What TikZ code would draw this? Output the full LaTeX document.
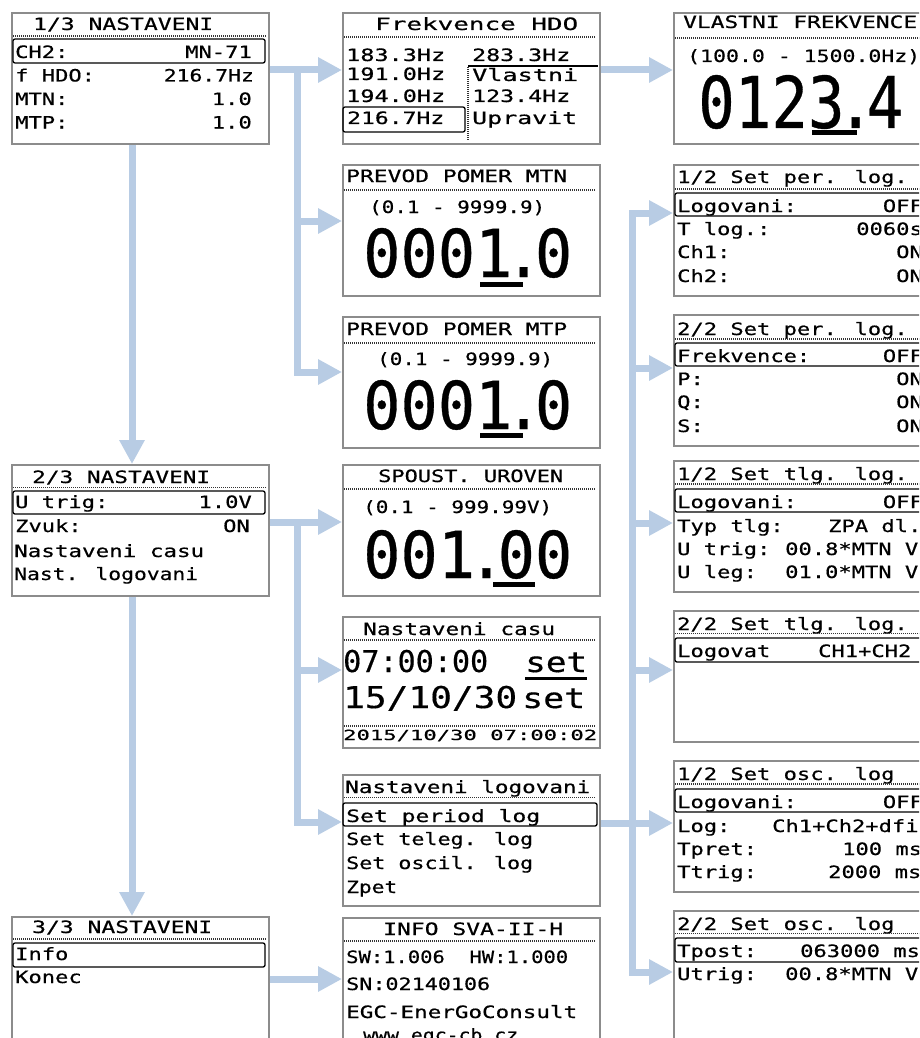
\documentclass[tikz,border=0pt]{standalone}
\usepackage{fontspec}
\usepackage{graphicx}
\usetikzlibrary{arrows.meta}
\newfontfamily\lcdf[FakeStretch=1.3,FakeBold=0.6]{DejaVu Sans Mono}
\newfontfamily\monof[FakeBold=0.4]{DejaVu Sans Mono}
\newfontfamily\bigmonof[FakeBold=0.5]{DejaVu Sans Mono}
\newcommand\lcd{\lcdf\fontsize{17pt}{19pt}\selectfont}
\newcommand\casuf{\monof\fontsize{30pt}{32pt}\selectfont}
\newcommand\setf{\monof\fontsize{28pt}{30pt}\selectfont}
\newcommand\smallf{\monof\fontsize{14pt}{16pt}\selectfont}
\newcommand\bigf{\bigmonof\fontsize{70pt}{72pt}\selectfont}
\newcommand\bdot{\kern-0.12em.\kern-0.12em}
\newlength\fitlen
\newcommand\fitw[2]{\settowidth\fitlen{#2}\pgfmathsetmacro\fitr{#1/\fitlen}\scalebox{\fitr}[1]{#2}}
\newcommand\bignum[3]{\resizebox{#1pt}{#2pt}{\bigf #3}}
\newcounter{tn}
\newcommand\TL[3]{\stepcounter{tn}\node[txt,anchor=base west] (t\arabic{tn}) at (#1,#2) {#3};}
\newcommand\TR[3]{\stepcounter{tn}\node[txt,anchor=base east] (t\arabic{tn}) at (#1,#2) {#3};}
\newcommand\FL[5][\lcd]{\stepcounter{tn}\node[txt,font=#1,anchor=base west] (t\arabic{tn}) at (#2,#3) {\fitw{#4}{#5}};}
\newcommand\FR[5][\lcd]{\stepcounter{tn}\node[txt,font=#1,anchor=base east] (t\arabic{tn}) at (#2,#3) {\fitw{#4}{#5}};}
\definecolor{scrgray}{HTML}{8C8C8C}
\definecolor{arrblue}{HTML}{B8CCE4}
\tikzset{
  screen/.style={draw=scrgray, line width=1.8pt, fill=white, inner sep=0pt, anchor=north west,
    minimum width=257pt, minimum height=131pt},
  hl/.style={draw=black, line width=1.3pt, rounded corners=2pt},
  sep/.style={draw=black!80, line width=1.5pt, dash pattern=on 1pt off 1pt},
  solidsep/.style={draw=black, line width=1.3pt},
  conn/.style={draw=arrblue, line width=7pt, -{Triangle[length=24pt,width=24pt]}},
  txt/.style={inner sep=0pt, font=\lcd, text=black},
}
\begin{document}
\begin{tikzpicture}[x=1pt,y=-1pt]
\useasboundingbox (0,0) rectangle (919,1038);
\clip (0,0) rectangle (919,1038);
\fill[white] (0,0) rectangle (919,1038);

% ---------- screens ----------
\node[screen] (sA) at (11,12) {};
\node[screen] (sB) at (11,464) {};
\node[screen] (sC) at (11,916) {};
\node[screen] (sD) at (342,12) {};
\node[screen] (sE) at (342,164) {};
\node[screen] (sF) at (342,316) {};
\node[screen] (sG) at (342,464) {};
\node[screen] (sH) at (342,616) {};
\node[screen] (sI) at (342,774) {};
\node[screen] (sJ) at (342,917) {};
\node[screen] (sK) at (673,12) {};
\node[screen] (sL) at (673,164) {};
\node[screen] (sM) at (673,314) {};
\node[screen] (sN) at (673,460) {};
\node[screen] (sO) at (673,610) {};
\node[screen] (sP) at (673,760) {};
\node[screen] (sQ) at (673,910) {};

% ---------- A: 1/3 NASTAVENI ----------
\FL{33}{30}{180}{1/3 NASTAVENI}
\draw[sep] (13,36) -- (266,36);
\draw[hl] (13,39) rectangle (265,63);
\TL{15}{58}{CH2:} \TR{252}{58}{MN-71}
\TL{15}{81.5}{f HDO:} \FR{254}{81.5}{90}{216.7Hz}
\TL{15}{105}{MTN:} \TR{252}{105}{1.0}
\TL{15}{128.5}{MTP:} \TR{252}{128.5}{1.0}

% ---------- B: 2/3 NASTAVENI ----------
\FL{32}{483}{178}{2/3 NASTAVENI}
\draw[sep] (13,487.5) -- (266,487.5);
\draw[hl] (13,491) rectangle (265,514);
\TL{15}{508}{U trig:} \TR{252}{508}{1.0V}
\TL{15}{532}{Zvuk:} \TR{250}{532}{ON}
\FL{14}{557}{190}{Nastaveni casu}
\FL{14}{580}{184}{Nast. logovani}

% ---------- C: 3/3 NASTAVENI ----------
\FL{32}{933}{180}{3/3 NASTAVENI}
\draw[sep] (13,939) -- (266,939);
\draw[hl] (13,943) rectangle (265,967);
\TL{15}{960}{Info}
\TL{15}{983}{Konec}

% ---------- D: Frekvence HDO ----------
\FL{375}{30}{203}{Frekvence HDO}
\draw[sep] (344,37) -- (596,37);
\FL{346}{61}{99}{183.3Hz} \FL{472}{61}{98}{283.3Hz}
\draw[solidsep] (468,66) -- (598,66);
\draw[sep] (468,67) -- (468,141);
\FL{346}{80}{99}{191.0Hz} \FL{472}{81}{106}{Vlastni}
\FL{346}{102}{99}{194.0Hz} \FL{472}{102}{98}{123.4Hz}
\draw[hl] (343,107) rectangle (465,132);
\FL{347}{124}{97}{216.7Hz} \FL{472}{124}{105}{Upravit}

% ---------- E: PREVOD POMER MTN ----------
\FL{346}{182}{221}{PREVOD POMER MTN}
\draw[sep] (344,190) -- (596,190);
\FL{369}{213}{176}{(0.1 - 9999.9)}
\stepcounter{tn}\node[txt,anchor=base west] (t\arabic{tn}) at (363,277) {\bignum{209}{49}{0001\bdot 0}};
\fill[black] (480,282) rectangle (523,287);

% ---------- F: PREVOD POMER MTP ----------
\FL{346}{335}{221}{PREVOD POMER MTP}
\draw[sep] (344,343) -- (596,343);
\FL{377}{365}{176}{(0.1 - 9999.9)}
\stepcounter{tn}\node[txt,anchor=base west] (t\arabic{tn}) at (363,429) {\bignum{209}{49}{0001\bdot 0}};
\fill[black] (480,433) rectangle (523,438);

% ---------- G: SPOUST. UROVEN ----------
\FL{378}{482}{185}{SPOUST. UROVEN}
\draw[sep] (344,489) -- (596,489);
\FL{363}{513}{189}{(0.1 - 999.99V)}
\stepcounter{tn}\node[txt,anchor=base west] (t\arabic{tn}) at (363,578) {\bignum{209}{48}{001\bdot 00}};
\fill[black] (493,582) rectangle (535,587);

% ---------- H: Nastaveni casu ----------
\FL{363}{635}{192}{Nastaveni casu}
\draw[sep] (344,640) -- (596,640);
\FL[\casuf]{343}{672}{145}{07:00:00}
\FL[\setf]{525}{672}{62}{set}
\fill[black] (525,677) rectangle (587,680);
\FL[\casuf]{343}{708}{174}{15/10/30}
\FL[\setf]{522}{708}{63}{set}
\draw[sep] (344,726) -- (596,726);
\FL[\smallf]{343}{740}{254}{2015/10/30 07:00:02}

% ---------- I: Nastaveni logovani ----------
\FL{345}{793}{245}{Nastaveni logovani}
\draw[sep] (344,797.5) -- (596,797.5);
\draw[hl] (343,803) rectangle (597,826);
\FL{346}{822}{194}{Set period log}
\FL{346}{845}{187}{Set teleg. log}
\FL{346}{869}{187}{Set oscil. log}
\FL{346}{893}{51}{Zpet}

% ---------- J: INFO ----------
\FL{383}{935}{180}{INFO SVA-II-H}
\draw[sep] (344,941) -- (596,941);
\FL{346}{963}{222}{SW:1.006~~HW:1.000}
\FL{346}{990}{144}{SN:02140106}
\FL{346}{1018}{231}{EGC-EnerGoConsult}
\FL{363}{1041}{155}{www.egc-cb.cz}

% ---------- K: VLASTNI FREKVENCE ----------
\FL{683}{28}{234}{VLASTNI FREKVENCE}
\draw[sep] (675,38) -- (928,38);
\FL{687}{62}{233}{(100.0 - 1500.0Hz)}
\stepcounter{tn}\node[txt,anchor=base west] (t\arabic{tn}) at (698,128) {\bignum{205}{53}{0123\bdot 4}};
\fill[black] (812,130) rectangle (857,135);

% ---------- L: 1/2 Set per. log. ----------
\TL{677}{183}{1/2 Set per. log.}
\draw[sep] (675,189) -- (928,189);
\draw[hl] (675,193) rectangle (928,216);
\TL{677}{212}{Logovani:} \TR{923}{212}{OFF}
\TL{677}{235}{T log.:} \TR{923}{235}{0060s}
\TL{677}{258}{Ch1:} \TR{923}{258}{ON}
\TL{677}{282}{Ch2:} \TR{923}{282}{ON}

% ---------- M: 2/2 Set per. log. ----------
\TL{677}{335}{2/2 Set per. log.}
\draw[sep] (675,339) -- (928,339);
\draw[hl] (675,343) rectangle (928,366);
\TL{677}{362}{Frekvence:} \TR{923}{362}{OFF}
\TL{677}{385}{P:} \TR{923}{385}{ON}
\TL{677}{408}{Q:} \TR{923}{408}{ON}
\TL{677}{432}{S:} \TR{923}{432}{ON}

% ---------- N: 1/2 Set tlg. log. ----------
\TL{677}{480}{1/2 Set tlg. log.}
\draw[sep] (675,484) -- (928,484);
\draw[hl] (675,489) rectangle (928,512);
\TL{677}{508}{Logovani:} \TR{923}{508}{OFF}
\TL{677}{532}{Typ tlg:} \TL{828}{532}{ZPA dl.}
\TL{677}{555}{U trig:} \TL{785}{555}{00.8*MTN V}
\TL{677}{578}{U leg:} \TL{785}{578}{01.0*MTN V}

% ---------- O: 2/2 Set tlg. log. ----------
\TL{677}{630}{2/2 Set tlg. log.}
\draw[sep] (675,633.5) -- (928,633.5);
\draw[hl] (675,638) rectangle (928,662);
\TL{677}{657}{Logovat} \TL{818}{657}{CH1+CH2}

% ---------- P: 1/2 Set osc. log ----------
\TL{677}{780}{1/2 Set osc. log}
\draw[sep] (675,784) -- (928,784);
\draw[hl] (675,789) rectangle (928,812);
\TL{677}{808}{Logovani:} \TR{923}{808}{OFF}
\TL{677}{832}{Log:} \TL{772}{832}{Ch1+Ch2+dfi}
\TL{677}{855}{Tpret:} \TL{842}{855}{100 ms}
\TL{677}{878}{Ttrig:} \TL{828}{878}{2000 ms}

% ---------- Q: 2/2 Set osc. log ----------
\TL{677}{930}{2/2 Set osc. log}
\draw[sep] (675,933.5) -- (928,933.5);
\draw[hl] (675,938) rectangle (928,962);
\TL{677}{957}{Tpost:} \TL{800}{957}{063000 ms}
\TL{677}{980}{Utrig:} \TL{785}{980}{00.8*MTN V}

% ---------- connectors ----------
\coordinate (vx) at (132,0);
\coordinate (b1) at (297,70);
\coordinate (b2) at (297,522);
\coordinate (j3) at (632,823);

\draw[conn] (sA.south -| vx) -- (sB.north -| vx);
\draw[conn] (sB.south -| vx) -- (sC.north -| vx);

\draw[conn] (sA.east |- b1) -- (sD.west |- b1);
\draw[conn] (b1) |- (sE.west |- 0,221);
\draw[conn] (b1) |- (sF.west |- 0,372);

\draw[conn] (sD.east |- 0,70) -- (sK.west |- 0,70);

\draw[conn] (sB.east |- b2) -- (sG.west |- b2);
\draw[conn] (b2) |- (sH.west |- 0,670);
\draw[conn] (b2) |- (sI.west |- 0,822);

\draw[conn] (sC.east |- 0,979) -- (sJ.west |- 0,979);

\draw[conn] (sI.east |- j3) -- (sP.west |- j3);
\draw[conn] (j3) |- (sL.west |- 0,213);
\draw[conn] (j3) |- (sM.west |- 0,368);
\draw[conn] (j3) |- (sN.west |- 0,523);
\draw[conn] (j3) |- (sO.west |- 0,670);
\draw[conn] (j3) |- (sQ.west |- 0,972);
\end{tikzpicture}
\end{document}
